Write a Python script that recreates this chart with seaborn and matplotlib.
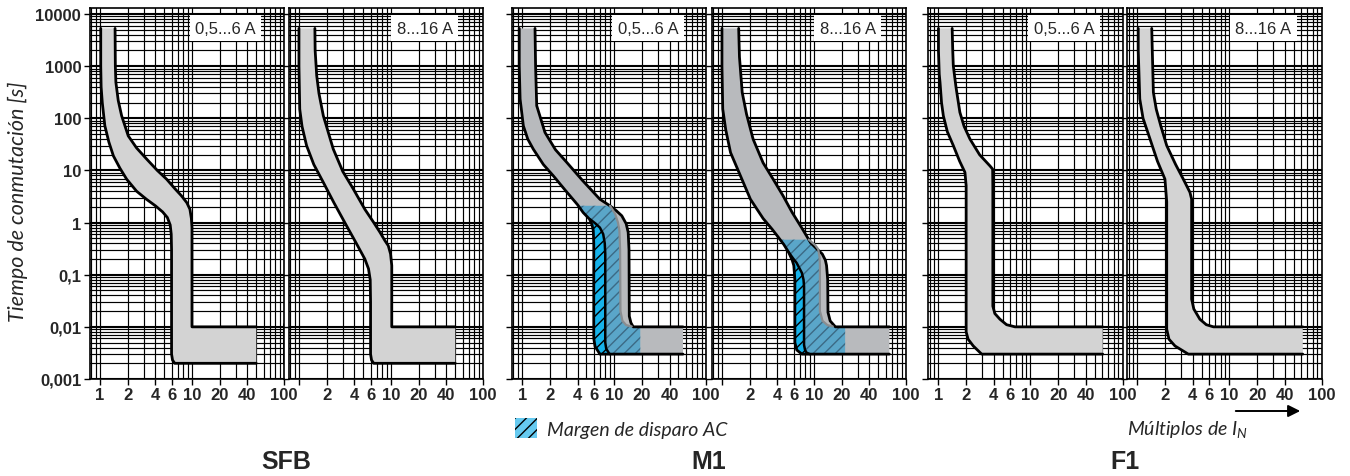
import numpy as np
import matplotlib
matplotlib.use("Agg")
import matplotlib.pyplot as plt
import seaborn as sns
from matplotlib.patches import Patch
from matplotlib.ticker import FixedLocator, LogLocator, NullFormatter

# ---- characteristic bands (x = multiples of I_N, t = seconds)
# SFB 0,5...6 A
sfb_a_left_x = [1.02, 1.02, 1.03, 1.06, 1.13, 1.25, 1.40, 1.65, 1.95, 2.5, 3.2, 4.0, 4.8, 5.4, 5.8, 5.95, 6.0, 6.0, 6.15, 6.5, 50]
sfb_a_left_t = [5300, 1000, 400, 200, 72, 35, 19, 11, 6.8, 4.0, 2.8, 2.1, 1.6, 1.25, 0.9, 0.6, 0.3, 0.003, 0.0023, 0.002, 0.002]
sfb_a_right_x = [1.46, 1.47, 1.49, 1.58, 1.72, 2.03, 2.5, 3.22, 4.2, 5.3, 6.5, 7.7, 8.8, 9.5, 9.85, 10.0, 10.0, 50]
sfb_a_right_t = [5300, 1000, 490, 220, 112, 46, 27, 16.5, 10, 6.8, 4.5, 3.25, 2.4, 1.8, 1.2, 0.8, 0.01, 0.01]
# SFB 8...16 A
sfb_b_left_x = [1.0, 1.0, 1.02, 1.08, 1.21, 1.45, 1.84, 2.4, 3.3, 4.2, 5.2, 5.7, 5.95, 6.0, 6.0, 6.15, 6.5, 50]
sfb_b_left_t = [5300, 1000, 150, 70, 30, 13, 5.9, 2.4, 0.86, 0.4, 0.2, 0.13, 0.08, 0.03, 0.003, 0.0023, 0.002, 0.002]
sfb_b_right_x = [1.49, 1.5, 1.56, 1.65, 1.84, 2.36, 3.0, 3.9, 5.2, 6.5, 7.6, 8.6, 9.35, 9.9, 10.2, 10.2, 50]
sfb_b_right_t = [5300, 2000, 655, 300, 112, 25.7, 9.5, 4.4, 1.8, 1.0, 0.65, 0.45, 0.36, 0.25, 0.15, 0.01, 0.01]
# M1 0,5...6 A
m1_a_left_x = [0.93, 0.93, 0.95, 1.03, 1.15, 1.32, 1.7, 2.18, 3.0, 4.0, 4.6, 5.4, 5.75, 5.93, 6.0, 6.0, 6.2, 7.0, 56]
m1_a_left_t = [5300, 1000, 234, 72, 40, 25.7, 13, 7.9, 4.0, 2.2, 1.56, 1.16, 0.9, 0.7, 0.4, 0.006, 0.0042, 0.003, 0.003]
m1_a_right_x = [1.38, 1.40, 1.44, 1.77, 2.3, 3.05, 4.5, 7.0, 9.0, 10.5, 12.1, 13.5, 14.2, 14.5, 14.6, 15.2, 16.1, 56]
m1_a_right_t = [5300, 1000, 174, 53.6, 25, 14.3, 6.5, 2.8, 2.1, 1.7, 1.35, 0.95, 0.65, 0.3, 0.016, 0.012, 0.01, 0.01]
# M1 0,5...6 A, AC trip margin
ac_a_top = (4.1, 2.1)
ac_a_end_x = 19.2
ac_a_edge_x = [9.0, 10.2, 11.0, 11.4, 11.6, 11.7, 12.3, 13.5, 15.5]
ac_a_edge_t = [2.1, 1.5, 1.0, 0.7, 0.3, 0.02, 0.013, 0.0108, 0.0102]
ac_a_inner_x = [5.5, 6.3, 7.0, 7.6, 7.9, 8.0, 8.0, 8.2, 8.8, 9.0]
ac_a_inner_t = [1.15, 0.95, 0.8, 0.6, 0.4, 0.25, 0.005, 0.0038, 0.0031, 0.003]
# M1 8...16 A
m1_b_left_x = [1.0, 1.0, 1.02, 1.1, 1.24, 1.5, 2.04, 2.8, 3.5, 3.98, 4.7, 5.3, 5.8, 6.04, 6.2, 6.2, 6.5, 7.4, 66]
m1_b_left_t = [5300, 1000, 150, 60, 22, 10, 2.8, 1.2, 0.75, 0.56, 0.38, 0.27, 0.19, 0.15, 0.08, 0.005, 0.0036, 0.003, 0.003]
m1_b_right_x = [1.52, 1.55, 1.66, 1.85, 2.18, 2.8, 3.6, 4.6, 5.8, 7.5, 9.2, 10.8, 12.3, 13.3, 13.7, 14.1, 14.2, 15.0, 17.1, 66]
m1_b_right_t = [5300, 1500, 314, 120, 40, 14, 6.8, 3.3, 1.56, 0.75, 0.41, 0.31, 0.25, 0.19, 0.15, 0.08, 0.019, 0.013, 0.01, 0.01]
# M1 8...16 A, AC trip margin
ac_b_top = (4.3, 0.47)
ac_b_end_x = 21.8
ac_b_edge_x = [8.8, 10.3, 11.1, 11.5, 11.6, 11.6, 12.4, 14.0, 16.0]
ac_b_edge_t = [0.47, 0.37, 0.31, 0.22, 0.15, 0.02, 0.013, 0.0108, 0.0102]
ac_b_inner_x = [5.3, 6.0, 6.46, 7.0, 7.4, 7.7, 7.8, 7.8, 8.0, 8.3, 9.0]
ac_b_inner_t = [0.27, 0.2, 0.17, 0.13, 0.108, 0.08, 0.06, 0.0045, 0.0036, 0.0032, 0.003]
# F1 0,5...6 A
f1_a_left_x = [1.0, 1.0, 1.02, 1.04, 1.08, 1.13, 1.25, 1.45, 1.7, 1.94, 2.0, 2.0, 2.1, 2.39, 2.95, 61]
f1_a_left_t = [5300, 2000, 700, 490, 200, 112, 55, 30, 15, 9.2, 5.1, 0.008, 0.0058, 0.0043, 0.003, 0.003]
f1_a_right_x = [1.41, 1.43, 1.45, 1.55, 1.71, 1.9, 2.2, 2.8, 3.63, 3.88, 3.9, 3.9, 4.1, 4.66, 5.5, 6.8, 61]
f1_a_right_t = [5300, 2000, 1020, 400, 130, 70, 40, 20, 12.2, 10.6, 5, 0.025, 0.018, 0.014, 0.011, 0.01, 0.01]
# F1 8...16 A
f1_b_left_x = [1.02, 1.02, 1.06, 1.15, 1.37, 1.65, 1.99, 2.08, 2.08, 2.2, 2.56, 3.57, 62.6]
f1_b_left_t = [5300, 2000, 234, 100, 40, 15, 6.8, 2.5, 0.009, 0.0058, 0.0043, 0.003, 0.003]
f1_b_right_x = [1.43, 1.45, 1.49, 1.6, 1.8, 2.08, 2.6, 3.15, 3.72, 3.88, 3.88, 4.1, 4.77, 5.6, 6.7, 62.6]
f1_b_right_t = [5300, 2000, 314, 150, 70, 30, 13, 6.8, 3.8, 2.8, 0.034, 0.022, 0.014, 0.011, 0.01, 0.01]

ranges = ["0,5...6 A", "8...16 A"]
groups = ["SFB", "M1", "F1"]
x_ticks = [1, 2, 4, 6, 10, 20, 40, 100]
y_ticks = [0.001, 0.01, 0.1, 1, 10, 100, 1000, 10000]
y_labels = ["0,001", "0,01", "0,1", "1", "10", "100", "1000", "10000"]

LIGHT = "#d3d3d3"
DARK = "#b8babd"
AC_BLUE = "#5aa6c9"
AC_CYAN = "#16b2ea"

sns.set_theme(style="white")
plt.rcParams["font.family"] = ["Liberation Sans", "DejaVu Sans"]
plt.rcParams["hatch.linewidth"] = 1.0
plt.rcParams["mathtext.fontset"] = "custom"
plt.rcParams["mathtext.it"] = "Lato:italic"
plt.rcParams["mathtext.rm"] = "Lato"

fig = plt.figure(figsize=(13.5, 4.77), dpi=100)
W, H = 1350, 477
lefts = [89.5, 288.5, 511.7, 711.5, 928, 1127]
pw = 194.5
bottom, top = 380, 9


def curve(ax, xs, ts, color="black", lw=2.0):
    sns.lineplot(x=xs, y=ts, ax=ax, sort=False, estimator=None, color=color,
                 lw=lw, zorder=6, solid_joinstyle="round")


def band(ax, lx, lt, rx, rt, fill):
    ax.fill(list(lx) + list(rx)[::-1], list(lt) + list(rt)[::-1], color=fill, lw=0, zorder=3)
    curve(ax, lx, lt)
    curve(ax, rx, rt)


def ac_margin(ax, lx, lt, top, end_x, ex, et, ix, it):
    lx, lt = np.array(lx), np.array(lt)
    keep = lt < top[1]
    body_x = [top[0]] + list(lx[keep][:-1]) + [end_x, end_x] + list(ex)[::-1]
    body_t = [top[1]] + list(lt[keep][:-1]) + [lt[-1], 0.01] + list(et)[::-1]
    ax.fill(body_x, body_t, facecolor=AC_BLUE, edgecolor="#3c6a85", hatch="///", lw=0, zorder=4)
    sel = (lt < it[0]) & (lx < ix[-1])
    strip_x = list(ix) + list(lx[sel])[::-1]
    strip_t = list(it) + list(lt[sel])[::-1]
    ax.fill(strip_x, strip_t, facecolor=AC_CYAN, edgecolor="black", hatch="///", lw=0, zorder=4)
    curve(ax, ex, et, color="#8a8d90", lw=1.6)
    curve(ax, ix, it, lw=1.8)


axes = []
for i, left in enumerate(lefts):
    ax = fig.add_axes([left / W, 1 - bottom / H, pw / W, (bottom - top) / H])
    ax.set_xscale("log")
    ax.set_yscale("log")
    ax.set_xlim(0.77, 100)
    ax.set_ylim(0.001, 10 ** (4 + 6 / 52.1))
    ax.set_axisbelow(True)
    ax.xaxis.set_major_locator(FixedLocator(x_ticks))
    ax.set_xticklabels([("" if (i % 2 and v == 1) else str(v)) for v in x_ticks])
    ax.xaxis.set_minor_locator(LogLocator(base=10, subs=np.arange(1, 10), numticks=30))
    ax.xaxis.set_minor_formatter(NullFormatter())
    ax.yaxis.set_major_locator(FixedLocator(y_ticks))
    ax.yaxis.set_minor_locator(LogLocator(base=10, subs=np.arange(1, 10), numticks=30))
    ax.yaxis.set_minor_formatter(NullFormatter())
    if i == 0:
        ax.set_yticklabels(y_labels)
    else:
        ax.set_yticklabels([])
    ax.grid(True, which="both", color="black", lw=0.85)
    ax.yaxis.grid(True, which="major", color="black", lw=1.5)
    ax.tick_params(which="major", direction="out", length=4, width=1, color="black",
                   bottom=True, left=True, pad=2, labelsize=12)
    ax.tick_params(which="minor", length=0)
    for lab in ax.get_xticklabels() + ax.get_yticklabels():
        lab.set_fontweight("bold")
    for s in ax.spines.values():
        s.set_color("black")
        s.set_linewidth(1.2)
    ax.text(0.70, 0.945, ranges[i % 2], transform=ax.transAxes, ha="center", va="center",
            fontsize=12, zorder=8, bbox=dict(facecolor="white", edgecolor="none", pad=4))
    ax.set_xlabel("")
    ax.set_ylabel("")
    axes.append(ax)

band(axes[0], sfb_a_left_x, sfb_a_left_t, sfb_a_right_x, sfb_a_right_t, LIGHT)
curve(axes[0], [100, 100], [min(sfb_a_left_t), 0.0115], lw=2.2)
band(axes[1], sfb_b_left_x, sfb_b_left_t, sfb_b_right_x, sfb_b_right_t, LIGHT)
band(axes[2], m1_a_left_x, m1_a_left_t, m1_a_right_x, m1_a_right_t, DARK)
ac_margin(axes[2], m1_a_left_x, m1_a_left_t, ac_a_top, ac_a_end_x, ac_a_edge_x, ac_a_edge_t, ac_a_inner_x, ac_a_inner_t)
band(axes[3], m1_b_left_x, m1_b_left_t, m1_b_right_x, m1_b_right_t, DARK)
ac_margin(axes[3], m1_b_left_x, m1_b_left_t, ac_b_top, ac_b_end_x, ac_b_edge_x, ac_b_edge_t, ac_b_inner_x, ac_b_inner_t)
band(axes[4], f1_a_left_x, f1_a_left_t, f1_a_right_x, f1_a_right_t, LIGHT)
band(axes[5], f1_b_left_x, f1_b_left_t, f1_b_right_x, f1_b_right_t, LIGHT)

fig.text(18 / W, 1 - 202 / H, "Tiempo de conmutación [s]", rotation=90, ha="center", va="center",
         fontsize=15.5, style="italic", family=["Lato", "DejaVu Sans"])

for g, name in enumerate(groups):
    cx = (lefts[2 * g] + lefts[2 * g + 1] + pw) / 2
    fig.text(cx / W, 1 - 462 / H, name, ha="center", va="center", fontsize=18, fontweight="bold")

fig.legend(handles=[Patch(facecolor="#66caf0", edgecolor="black", hatch="///", lw=0)],
           labels=["Margen de disparo AC"], loc="center left",
           bbox_to_anchor=(515 / W, 1 - 429 / H), frameon=False, borderpad=0, borderaxespad=0,
           handlelength=1.15, handleheight=1.2, handletextpad=0.5,
           prop=dict(family="Lato", style="italic", size=14))

fig.text(1127 / W, 1 - 430 / H, "Múltiplos de $I_N$", ha="left", va="center",
         fontsize=14, style="italic", family=["Lato", "DejaVu Sans"])
axes[-1].annotate("", xy=(1303 / W, 1 - 412 / H), xytext=(1233 / W, 1 - 412 / H),
                  xycoords="figure fraction", textcoords="figure fraction",
                  arrowprops=dict(arrowstyle="-|>", color="black", lw=1.4, mutation_scale=18),
                  annotation_clip=False)

fig.savefig("out.png", dpi=100)
